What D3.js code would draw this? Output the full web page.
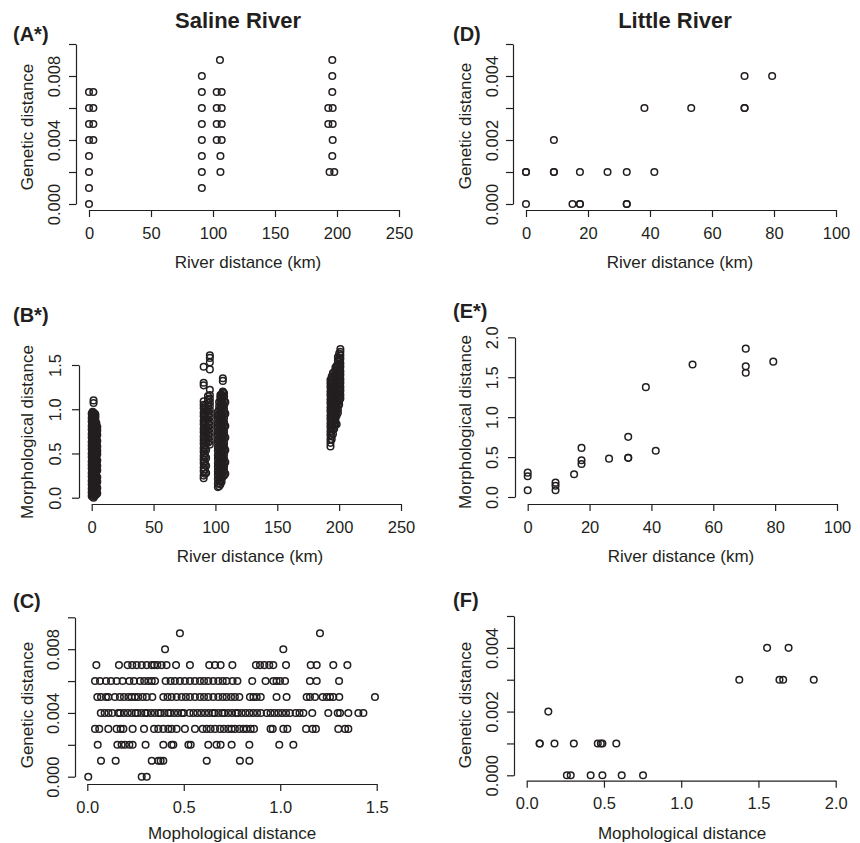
<!DOCTYPE html>
<html>
<head>
<meta charset="utf-8">
<script src="https://cdn.jsdelivr.net/npm/d3@7"></script>
<style>
  body { margin: 0; background: #fff; }
  svg text { font-family: "Liberation Sans", Arial, Helvetica, sans-serif; fill: #231f20; }
</style>
</head>
<body>
<svg id="fig" width="860" height="843"></svg>
<script>
// ---- Saline River (A): river distance (km) vs genetic distance
const salineKmA  = [0, 0, 0, 0, 0, 3.5, 0, 3.5, 0, 3.5, 0, 3.5,
                    91, 91, 91, 91, 91, 91, 91, 91,
                    106, 106, 103, 107, 103, 107, 103, 107, 103, 107, 105.6,
                    194, 197.8, 196.2, 196.5, 193, 196.5, 193, 196.5, 196.2, 196.2, 196.2];
const salineGenA = [0, .001, .002, .003, .004, .004, .005, .005, .006, .006, .007, .007,
                    .001, .002, .003, .004, .005, .006, .007, .008,
                    .002, .003, .004, .004, .005, .005, .006, .006, .007, .007, .009,
                    .002, .002, .003, .004, .005, .005, .006, .006, .007, .008, .009];

// ---- Saline River (B): river distance (km) vs morphological distance, one list per column of points
const salineKmB = [0, 0.8, 1.5, 2.3, 3, 3.8, 4.5,
                   90.5, 91.5, 92.5, 94, 95.5,
                   102, 103, 104, 105, 106, 107, 108,
                   193, 194, 195, 196, 197, 198, 199, 200, 201];
const salineMorphB = [
  [0.02, 0.06, 0.10, 0.15, 0.19, 0.24, 0.28, 0.33, 0.37, 0.41, 0.46, 0.50, 0.55, 0.59, 0.63, 0.68, 0.72, 0.77, 0.81, 0.86, 0.90, 0.95],
  [0.01, 0.05, 0.09, 0.14, 0.18, 0.22, 0.27, 0.31, 0.36, 0.40, 0.45, 0.49, 0.53, 0.58, 0.62, 0.67, 0.71, 0.75, 0.80, 0.84, 0.89, 0.93, 0.97],
  [0.00, 0.04, 0.08, 0.13, 0.17, 0.21, 0.26, 0.30, 0.35, 0.39, 0.44, 0.48, 0.52, 0.57, 0.61, 0.66, 0.70, 0.74, 0.79, 0.83, 0.88, 0.92, 0.96, 1.07, 1.10],
  [0.02, 0.07, 0.11, 0.16, 0.20, 0.24, 0.29, 0.33, 0.38, 0.42, 0.47, 0.51, 0.56, 0.60, 0.64, 0.69, 0.73, 0.78, 0.82, 0.86, 0.91, 0.95],
  [0.03, 0.07, 0.12, 0.16, 0.20, 0.25, 0.29, 0.34, 0.38, 0.43, 0.47, 0.51, 0.56, 0.60, 0.65, 0.69, 0.73, 0.78, 0.82, 0.87, 0.91, 0.94],
  [0.04, 0.09, 0.14, 0.19, 0.24, 0.30, 0.35, 0.40, 0.45, 0.50, 0.55, 0.61, 0.66, 0.70, 0.75, 0.79, 0.84],
  [0.05, 0.11, 0.18, 0.23, 0.31, 0.36, 0.42, 0.49, 0.53, 0.58, 0.64, 0.71, 0.76, 0.80],
  [0.22, 0.25, 0.30, 0.34, 0.39, 0.43, 0.47, 0.52, 0.56, 0.61, 0.65, 0.69, 0.74, 0.78, 0.83, 0.87, 0.92, 0.96, 1.01, 1.05, 1.09, 1.27, 1.30, 1.48],
  [0.27, 0.32, 0.37, 0.41, 0.46, 0.50, 0.55, 0.59, 0.64, 0.68, 0.73, 0.77, 0.82, 0.86, 0.91, 0.95, 1.00, 1.04],
  [0.28, 0.36, 0.45, 0.54, 0.63, 0.72, 0.80, 0.89, 0.98],
  [0.62, 0.67, 0.71, 0.76, 0.80, 0.85, 0.89, 0.94, 0.98, 1.03, 1.07, 1.11, 1.15],
  [0.60, 0.64, 0.69, 0.73, 0.78, 0.82, 0.86, 0.91, 0.95, 0.99, 1.04, 1.08, 1.12, 1.16, 1.22, 1.45, 1.53, 1.58, 1.61],
  [0.12, 0.16, 0.21, 0.26, 0.30, 0.35, 0.39, 0.44, 0.48, 0.53, 0.57, 0.62, 0.66, 0.71, 0.75, 0.80, 0.84, 0.89, 0.93, 0.97],
  [0.13, 0.18, 0.22, 0.27, 0.31, 0.36, 0.40, 0.45, 0.49, 0.54, 0.58, 0.63, 0.67, 0.72, 0.76, 0.81, 0.85, 0.90, 0.94, 0.99, 1.03, 1.08],
  [0.15, 0.19, 0.23, 0.28, 0.33, 0.37, 0.42, 0.46, 0.51, 0.55, 0.60, 0.64, 0.69, 0.73, 0.78, 0.82, 0.87, 0.91, 0.96, 1.00, 1.05, 1.09, 1.13, 1.16],
  [0.18, 0.22, 0.27, 0.31, 0.36, 0.40, 0.45, 0.49, 0.54, 0.58, 0.63, 0.67, 0.72, 0.76, 0.81, 0.85, 0.90, 0.94, 0.99, 1.03, 1.08, 1.12, 1.17],
  [0.24, 0.29, 0.34, 0.38, 0.43, 0.47, 0.52, 0.57, 0.61, 0.66, 0.70, 0.75, 0.79, 0.84, 0.88, 0.93, 0.97, 1.02, 1.06, 1.11, 1.15, 1.19, 1.20, 1.32, 1.35],
  [0.25, 0.30, 0.35, 0.39, 0.44, 0.49, 0.53, 0.58, 0.62, 0.67, 0.72, 0.76, 0.81, 0.85, 0.90, 0.95, 0.99, 1.04, 1.09, 1.14, 1.18],
  [0.27, 0.40, 0.54, 0.68, 0.81, 0.95, 1.08],
  [0.58, 0.62, 0.66, 0.71, 0.75, 0.80, 0.84, 0.89, 0.93, 0.98, 1.02, 1.07, 1.11, 1.16, 1.20, 1.25, 1.29, 1.33],
  [0.66, 0.70, 0.75, 0.79, 0.84, 0.88, 0.93, 0.97, 1.02, 1.06, 1.11, 1.15, 1.20, 1.24, 1.29, 1.33, 1.37],
  [0.72, 0.77, 0.81, 0.86, 0.90, 0.95, 0.99, 1.04, 1.08, 1.13, 1.17, 1.22, 1.26, 1.31, 1.36, 1.41],
  [0.78, 0.83, 0.87, 0.92, 0.96, 1.01, 1.05, 1.10, 1.14, 1.19, 1.23, 1.28, 1.32, 1.37, 1.42],
  [0.83, 0.88, 0.92, 0.97, 1.01, 1.06, 1.10, 1.15, 1.19, 1.24, 1.28, 1.33, 1.38, 1.43, 1.47],
  [0.83, 0.93, 0.98, 1.02, 1.07, 1.11, 1.16, 1.20, 1.25, 1.29, 1.34, 1.39, 1.44, 1.49],
  [0.96, 1.00, 1.05, 1.09, 1.14, 1.18, 1.23, 1.27, 1.32, 1.36, 1.41, 1.45, 1.50, 1.55, 1.59],
  [1.05, 1.09, 1.14, 1.18, 1.23, 1.27, 1.32, 1.36, 1.41, 1.45, 1.50, 1.54, 1.58, 1.63],
  [1.12, 1.16, 1.21, 1.25, 1.30, 1.34, 1.39, 1.43, 1.48, 1.52, 1.57, 1.61, 1.65, 1.68]
];

// ---- Saline River (C): morphological vs genetic distance, one list per genetic level
const salineGenC = [0, .001, .002, .003, .004, .005, .006, .007, .008, .009];
const salineMorphC = [
  [0.005, 0.282, 0.308],
  [0.071, 0.147, 0.334, 0.368, 0.380, 0.394, 0.619, 0.791, 0.840],
  [0.054, 0.156, 0.178, 0.195, 0.218, 0.235, 0.302, 0.394, 0.437, 0.446, 0.524, 0.536, 0.627, 0.670, 0.691, 0.748, 0.840, 0.995, 1.068],
  [0.040, 0.062, 0.109, 0.152, 0.173, 0.187, 0.235, 0.294, 0.346, 0.368, 0.394, 0.420, 0.437, 0.463, 0.506, 0.558,
   0.598, 0.619, 0.639, 0.662, 0.688, 0.708, 0.731, 0.748, 0.765, 0.788, 0.809, 0.826, 0.847, 0.864, 0.950, 0.961,
   1.016, 1.037, 1.134, 1.168, 1.185, 1.301, 1.336, 1.353],
  [0.07, 0.09, 0.11, 0.13, 0.16, 0.17, 0.19, 0.21, 0.23, 0.25, 0.26, 0.28, 0.30, 0.31, 0.33, 0.35, 0.37, 0.38, 0.40,
   0.42, 0.43, 0.45, 0.47, 0.49, 0.50, 0.53, 0.55, 0.57, 0.59, 0.61, 0.63, 0.65, 0.66, 0.68, 0.70, 0.71, 0.73, 0.75,
   0.77, 0.78, 0.80, 0.82, 0.84, 0.86, 0.88, 0.90, 0.93, 0.95, 0.97, 0.99, 1.01, 1.03, 1.05, 1.08, 1.10, 1.12,
   1.166, 1.249, 1.298, 1.310, 1.353, 1.405, 1.431],
  [0.052, 0.071, 0.097, 0.109, 0.143, 0.169, 0.190, 0.213, 0.230, 0.247, 0.264, 0.287, 0.308, 0.337, 0.394, 0.416,
   0.437, 0.463, 0.489, 0.511, 0.532, 0.558, 0.584, 0.605, 0.627, 0.653, 0.679, 0.702, 0.722, 0.745, 0.765, 0.788,
   0.843, 0.861, 0.878, 0.899, 0.981, 1.033, 1.137, 1.154, 1.180, 1.220, 1.241, 1.258, 1.275, 1.306, 1.491],
  [0.040, 0.066, 0.097, 0.123, 0.152, 0.183, 0.218, 0.242, 0.273, 0.295, 0.316, 0.334, 0.351, 0.406, 0.432, 0.454,
   0.480, 0.506, 0.532, 0.558, 0.584, 0.605, 0.627, 0.653, 0.679, 0.702, 0.722, 0.753, 0.778, 0.855, 0.924, 0.964,
   0.981, 0.999, 1.025, 1.154, 1.189, 1.305],
  [0.047, 0.164, 0.209, 0.233, 0.256, 0.282, 0.308, 0.334, 0.347, 0.363, 0.385, 0.411, 0.460, 0.532, 0.632, 0.662,
   0.691, 0.752, 0.874, 0.895, 0.918, 0.943, 0.964, 1.030, 1.158, 1.189, 1.275, 1.348],
  [0.403, 1.016],
  [0.480, 1.206]
];

// ---- Little River (D, E, F): one entry per pair of sites
const littleKm    = [0, 0, 0, 9, 9, 9, 15, 17.4, 17.4, 17.4, 26.3, 32.5, 32.5, 32.5, 38.2, 41.4, 53.3, 70.5, 70.5, 70.5, 79.4];
const littleGen   = [.001, 0, .001, .001, .002, .001, 0, 0, .001, 0, .001, 0, .001, 0, .003, .001, .003, .003, .003, .004, .004];
const littleMorph = [0.305, 0.26, 0.084, 0.18, 0.14, 0.084, 0.285, 0.615, 0.46, 0.414, 0.48, 0.753, 0.49, 0.49, 1.376, 0.58, 1.66, 1.858, 1.636, 1.556, 1.695];

// ---- tick values
const kmTicksSaline = [0, 50, 100, 150, 200, 250];
const kmTicksLittle = [0, 20, 40, 60, 80, 100];
const genTicksSaline = [0, .002, .004, .006, .008, .010];
const genLabelsSaline = [0, .004, .008];
const genTicksLittle = [0, .001, .002, .003, .004, .005];
const genLabelsLittle = [0, .002, .004];
const morphTicksSaline = [0, 0.5, 1.0, 1.5];
const morphTicksLittle = [0, 0.5, 1.0, 1.5, 2.0];

const ink = '#231f20';
const svg = d3.select('#fig');

// column lists -> [x, y] points
const ptsA = d3.zip(salineKmA, salineGenA);
const ptsB = salineKmB.flatMap((km, i) => salineMorphB[i].map(m => [km, m]));
const ptsC = salineGenC.flatMap((gen, i) => salineMorphC[i].map(m => [m, gen]));
const ptsD = d3.zip(littleKm, littleGen);
const ptsE = d3.zip(littleKm, littleMorph);
const ptsF = d3.zip(littleMorph, littleGen);

const only = (list, f) => d => list.some(v => Math.abs(v - d) < 1e-9) ? f(d) : '';

function drawPanel(p) {
  const g = svg.append('g');
  const x = d3.scaleLinear().domain(p.xDomain).range(p.xRange);
  const y = d3.scaleLinear().domain(p.yDomain).range(p.yRange);

  // x axis
  const gx = g.append('g')
    .attr('transform', `translate(0,${p.xAxisY})`)
    .call(d3.axisBottom(x).tickValues(p.xTicks).tickFormat(p.xFmt).tickSize(7).tickSizeOuter(0));
  gx.selectAll('text')
    .attr('y', 23).attr('dy', '0.35em')
    .style('font-size', '16.5px');

  // y axis, labels parallel to the axis like R
  const gy = g.append('g')
    .attr('transform', `translate(${p.yAxisX},0)`)
    .call(d3.axisLeft(y).tickValues(p.yTicks).tickFormat(p.yFmt).tickSize(7).tickSizeOuter(0));
  gy.selectAll('text')
    .attr('transform', 'rotate(-90)')
    .attr('x', 0).attr('y', -p.yLabOff).attr('dy', '0.35em')
    .attr('text-anchor', 'middle')
    .style('font-size', '16.5px');

  g.selectAll('.domain, .tick line').attr('stroke', ink).attr('stroke-width', 1.2);
  g.selectAll('.tick text').attr('fill', ink).style('font-family', '"Liberation Sans", Arial, sans-serif');

  // points
  g.append('g').selectAll('circle')
    .data(p.points)
    .enter()
    .append('circle')
    .attr('cx', d => x(d[0]))
    .attr('cy', d => y(d[1]))
    .attr('r', 3.3)
    .attr('fill', 'none')
    .attr('stroke', ink)
    .attr('stroke-width', 1.5);

  // axis titles
  g.append('text')
    .attr('x', p.xTitle[0]).attr('y', p.xTitle[1])
    .attr('dy', '0.35em')
    .attr('text-anchor', 'middle')
    .style('font-size', '17px')
    .text(p.xLabel);
  g.append('text')
    .attr('transform', `translate(${p.yTitle[0]},${p.yTitle[1]}) rotate(-90)`)
    .attr('dy', '0.35em')
    .attr('text-anchor', 'middle')
    .style('font-size', '17px')
    .text(p.yLabel);

  // panel letter
  g.append('text')
    .attr('x', p.tag[0]).attr('y', p.tag[1])
    .style('font-size', '20px')
    .style('font-weight', 'bold')
    .text(p.tagText);
}

const fmt3 = d3.format('.3f');
const fmt1 = d3.format('.1f');

drawPanel({
  points: ptsA, tagText: '(A*)', tag: [13, 41],
  xDomain: [0, 250], xRange: [89, 399], xAxisY: 210, xTicks: kmTicksSaline, xFmt: d3.format('d'),
  yDomain: [0, 0.010], yRange: [204, 44], yAxisX: 76, yTicks: genTicksSaline, yFmt: only(genLabelsSaline, fmt3), yLabOff: 22,
  xLabel: 'River distance (km)', xTitle: [248, 262], yLabel: 'Genetic distance', yTitle: [27, 127]
});
drawPanel({
  points: ptsD, tagText: '(D)', tag: [453, 41],
  xDomain: [0, 100], xRange: [526, 836], xAxisY: 210, xTicks: kmTicksLittle, xFmt: d3.format('d'),
  yDomain: [0, 0.005], yRange: [204, 44], yAxisX: 513, yTicks: genTicksLittle, yFmt: only(genLabelsLittle, fmt3), yLabOff: 21,
  xLabel: 'River distance (km)', xTitle: [680, 262], yLabel: 'Genetic distance', yTitle: [465, 126]
});
drawPanel({
  points: ptsB, tagText: '(B*)', tag: [13, 322],
  xDomain: [0, 250], xRange: [91.7, 401], xAxisY: 504, xTicks: kmTicksSaline, xFmt: d3.format('d'),
  yDomain: [0, 1.5], yRange: [497.7, 365], yAxisX: 79, yTicks: morphTicksSaline, yFmt: fmt1, yLabOff: 24,
  xLabel: 'River distance (km)', xTitle: [250, 556], yLabel: 'Morphological distance', yTitle: [27, 432]
});
drawPanel({
  points: ptsE, tagText: '(E*)', tag: [453, 318],
  xDomain: [0, 100], xRange: [527.7, 837], xAxisY: 504, xTicks: kmTicksLittle, xFmt: d3.format('d'),
  yDomain: [0, 2.0], yRange: [497, 337.3], yAxisX: 515, yTicks: morphTicksLittle, yFmt: fmt1, yLabOff: 23,
  xLabel: 'River distance (km)', xTitle: [681, 556], yLabel: 'Morphological distance', yTitle: [465, 422]
});
drawPanel({
  points: ptsC, tagText: '(C)', tag: [13, 608],
  xDomain: [0, 1.5], xRange: [87.3, 376.7], xAxisY: 784, xTicks: morphTicksSaline, xFmt: fmt1,
  yDomain: [0, 0.010], yRange: [776.7, 617.3], yAxisX: 75, yTicks: genTicksSaline, yFmt: only(genLabelsSaline, fmt3), yLabOff: 22,
  xLabel: 'Mophological distance', xTitle: [232, 833], yLabel: 'Genetic distance', yTitle: [27, 705]
});
drawPanel({
  points: ptsF, tagText: '(F)', tag: [453, 607],
  xDomain: [0, 2.0], xRange: [526.7, 835.7], xAxisY: 780.7, xTicks: morphTicksLittle, xFmt: fmt1,
  yDomain: [0, 0.005], yRange: [775.3, 616], yAxisX: 514, yTicks: genTicksLittle, yFmt: only(genLabelsLittle, fmt3), yLabOff: 22,
  xLabel: 'Mophological distance', xTitle: [682, 833], yLabel: 'Genetic distance', yTitle: [465, 705]
});

// column titles
svg.append('text')
  .attr('x', 238).attr('y', 28)
  .attr('text-anchor', 'middle')
  .style('font-size', '22px').style('font-weight', 'bold')
  .text('Saline River');
svg.append('text')
  .attr('x', 675).attr('y', 28)
  .attr('text-anchor', 'middle')
  .style('font-size', '22px').style('font-weight', 'bold')
  .text('Little River');
</script>
</body>
</html>
